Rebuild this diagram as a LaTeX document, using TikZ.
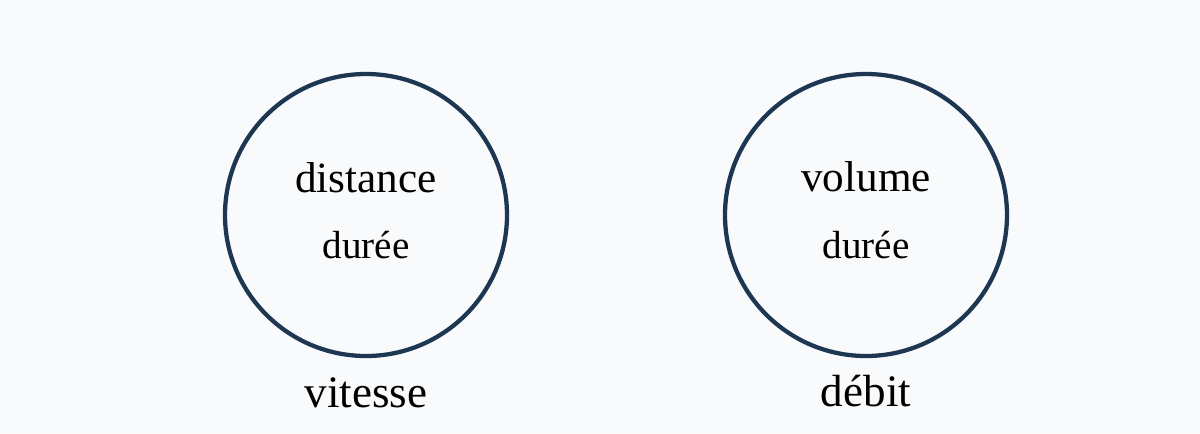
\documentclass[tikz,border=0pt]{standalone}
\usepackage{fontspec}
\setmainfont{Liberation Serif}

\definecolor{ringblue}{HTML}{1D3651}
\definecolor{paper}{HTML}{F8FAFC}

\tikzset{
    ring/.style={circle, draw=ringblue, line width=3.2pt, minimum size=211.5pt, inner sep=0pt},
    toplabel/.style={anchor=base, font=\fontsize{32.4}{37}\selectfont},
    botlabel/.style={anchor=base, font=\fontsize{29.4}{34}\selectfont},
    namelabel/.style={anchor=base, font=\fontsize{33.8}{39}\selectfont}
}

\begin{document}
\begin{tikzpicture}[x=0.75pt, y=-0.75pt]
    \fill[paper] (0,0) rectangle (1200,433);
    \useasboundingbox (0,0) rectangle (1200,433);

    \node[ring] (vit) at (366, 215) {};
    \node[toplabel] (dist) at (366, 192) {distance};
    \node[botlabel] (dur1) at (366, 258) {durée};
    \node[namelabel] (vitname) at (366, 407) {vitesse};

    \node[ring] (deb) at (866, 215) {};
    \node[toplabel] (vol) at (866, 191) {volume};
    \node[botlabel] (dur2) at (866, 258) {durée};
    \node[namelabel] (debname) at (866, 406) {débit};
\end{tikzpicture}
\end{document}
